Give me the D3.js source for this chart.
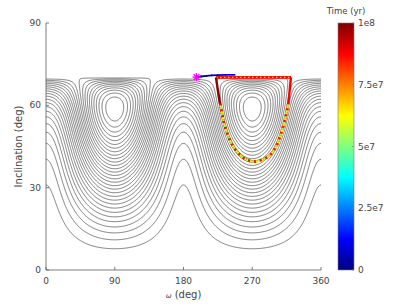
<!DOCTYPE html>
<html><head><meta charset="utf-8">
<script src="https://cdn.jsdelivr.net/npm/d3@7"></script>
<style>
body{margin:0;background:#fff;}
text{font-family:"DejaVu Sans",sans-serif;}
</style>
</head><body>
<svg id="chart" width="407" height="304"></svg>
<script>
// ---------- data ----------
const xTicks = [0, 90, 180, 270, 360];
const yTicks = [0, 30, 60, 90];
const cbTicks = [0, 2.5e7, 5e7, 7.5e7, 1e8];
const cbTickLabels = ["0", "2.5e7", "5e7", "7.5e7", "1e8"];
const initialInc = 70; // deg (e ~ 0 at start) -> sets conserved Jz
const contourLevels = [-6.403, -5.897, -5.390, -4.884, -4.377, -3.871, -3.364, -2.858,
  -2.351, -1.844, -1.338, -0.832, -0.325, 0.181, 0.688, 1.194, 1.701, 2.207, 2.714,
  3.220, 3.727, 4.234, 4.740, 5.247, 5.753, 6.260, 6.766, 7.273, 7.779, 8.286, 8.792];
// early drift (blue part)
const startOmega = [197, 203, 210, 217, 225, 235, 247];
const startInc   = [70.3, 70.5, 70.7, 70.9, 71.0, 71.1, 71.1];
const startTime  = [0, 2e6, 4e6, 6e6, 9e6, 1.3e7, 1.7e7];
// librating loop around omega = 270
const loopOmega = [222.5, 224.3, 227.8, 232.1, 238.7, 245.2, 254.0, 262.7, 271.4,
  282.3, 293.2, 301.1, 306.3, 312.9, 317.2, 319.4, 320.7];
const loopInc = [70.2, 66.8, 60.7, 54.7, 48.6, 44.9, 41.9, 40.1, 39.5,
  40.1, 41.9, 44.9, 48.6, 54.7, 60.7, 66.8, 70.2];
const loopSideTimes = [9.8e7, 8.8e7];     // left side, right side
const loopTopTimes = [8.7e7, 6.6e7];      // top edge solid, top edge dots
const lapTimes = [8.6e7, 6.3e7, 5.3e7];   // overlapping laps (dotted look)
const markerOmega = [197];
const markerInc = [70.3];

// ---------- layout ----------
const svg = d3.select("#chart");
const L = 46, R = 321, T = 23, B = 270;
const x = d3.scaleLinear().domain([0, 360]).range([L, R]);
const y = d3.scaleLinear().domain([0, 90]).range([B, T]);
const cbX = 338, cbW = 16;
const cbScale = d3.scaleLinear().domain([0, 1e8]).range([B, T]);
const tNorm = d3.scaleLinear().domain([0, 1e8]).range([0, 1]).clamp(true);
function jet(t) {
  const c = v => Math.max(0, Math.min(1, v));
  const r = c(1.5 - Math.abs(4 * t - 3)), g = c(1.5 - Math.abs(4 * t - 2)), b = c(1.5 - Math.abs(4 * t - 1));
  return d3.rgb(r * 255, g * 255, b * 255).formatHex();
}
const col = tm => jet(tNorm(tm));

// ---------- contour field (quadrupole Kozai integral) ----------
const nx = 361, ny = 281, dOm = 1, dInc = 0.25;
const Jz2 = Math.pow(Math.cos(initialInc * Math.PI / 180), 2);
const values = new Float64Array(nx * ny);
for (let r = 0; r < ny; r++) {
  const inc = r * dInc * Math.PI / 180;
  const c2 = Math.cos(inc) ** 2, s2 = 1 - c2;
  const e2 = Math.max(0, 1 - Jz2 / c2);
  for (let j = 0; j < nx; j++) {
    const om = j * dOm * Math.PI / 180;
    values[r * nx + j] = (2 + 3 * e2) * (3 * c2 - 1) + 15 * e2 * s2 * Math.cos(2 * om);
  }
}
const cons = d3.contours().size([nx, ny]).thresholds(contourLevels)(values);
const isB = p => p[0] === 0 || p[0] === nx || p[1] === 0 || p[1] === ny;
const lines = [];
cons.forEach(mp => mp.coordinates.forEach(poly => poly.forEach(ring => {
  let cur = [];
  for (let k = 0; k < ring.length - 1; k++) {
    const a = ring[k], b = ring[k + 1];
    if (isB(a) && isB(b)) {
      if (cur.length > 1) lines.push(cur);
      cur = [];
    } else {
      if (!cur.length) cur.push(a);
      cur.push(b);
    }
  }
  if (cur.length > 1) lines.push(cur);
})));
const gx = g => (g - 0.5) * dOm, gy = g => Math.min(70, (g - 0.5) * dInc);

svg.append("defs").append("clipPath").attr("id", "clip")
  .append("rect").attr("x", L).attr("y", T).attr("width", R - L).attr("height", B - T);

const cline = d3.line().x(p => x(gx(p[0]))).y(p => y(gy(p[1])));
svg.append("g").attr("clip-path", "url(#clip)")
  .selectAll("path").data(lines).join("path")
  .attr("d", cline).attr("fill", "none").attr("stroke", "#3a3a3a").attr("stroke-width", 0.65);

// ---------- axes ----------
const ax = svg.append("g").attr("stroke", "#5a5a5a").attr("stroke-width", 0.8);
ax.append("line").attr("x1", L).attr("x2", R).attr("y1", B).attr("y2", B);
ax.append("line").attr("x1", L).attr("x2", L).attr("y1", B).attr("y2", T);
xTicks.forEach(v => ax.append("line").attr("x1", x(v)).attr("x2", x(v)).attr("y1", B).attr("y2", B - 3));
yTicks.forEach(v => ax.append("line").attr("x1", L).attr("x2", L + 3).attr("y1", y(v)).attr("y2", y(v)));
const tc = "#444";
svg.selectAll(".xt").data(xTicks).join("text").attr("x", d => x(d)).attr("y", B + 14)
  .attr("text-anchor", "middle").attr("font-size", 9).attr("fill", tc).text(d => d);
svg.selectAll(".yt").data(yTicks).join("text").attr("x", L - 5).attr("y", d => y(d) + 3)
  .attr("text-anchor", "end").attr("font-size", 9).attr("fill", tc).text(d => d);
svg.append("text").attr("transform", `translate(22,${(T + B) / 2}) rotate(-90)`)
  .attr("text-anchor", "middle").attr("font-size", 10).attr("fill", tc).text("Inclination (deg)");
const xl = svg.append("text").attr("x", (L + R) / 2).attr("y", 298).attr("text-anchor", "middle")
  .attr("font-size", 10).attr("fill", tc);
xl.append("tspan").attr("font-size", 7).attr("font-style", "italic").text("ω");
xl.append("tspan").text(" (deg)");

// ---------- trajectory ----------
const traj = svg.append("g").attr("clip-path", "url(#clip)");
const lineXY = d3.line().x(d => x(d[0])).y(d => y(d[1])).curve(d3.curveCatmullRom);
const loopPts = loopOmega.map((o, i) => [o, loopInc[i]]);
const mid = Math.floor(loopPts.length / 2);
const topEdge = [[x(loopOmega[0]), y(loopInc[0])], [x(loopOmega[loopOmega.length - 1]), y(loopInc[loopInc.length - 1])]];
// top edge
traj.append("path").attr("d", d3.line()(topEdge))
  .attr("stroke", col(loopTopTimes[0])).attr("stroke-width", 2.6).attr("fill", "none");
traj.append("path").attr("d", d3.line()(topEdge))
  .attr("stroke", col(loopTopTimes[1])).attr("stroke-width", 1.2).attr("stroke-dasharray", "1.5,2.5").attr("fill", "none");
// sides
traj.append("path").attr("d", lineXY(loopPts.slice(0, mid + 1)))
  .attr("stroke", col(loopSideTimes[0])).attr("stroke-width", 2.4).attr("fill", "none");
traj.append("path").attr("d", lineXY(loopPts.slice(mid)))
  .attr("stroke", col(loopSideTimes[1])).attr("stroke-width", 2.4).attr("fill", "none");
// overlapping laps on lower part
const lower = loopPts.slice(2, loopPts.length - 2);
lapTimes.forEach((tm, k) => {
  traj.append("path").attr("d", lineXY(lower))
    .attr("stroke", col(tm)).attr("stroke-width", 2.4).attr("fill", "none")
    .attr("stroke-dasharray", "2,4").attr("stroke-dashoffset", -2 * k);
});
// early blue drift
for (let i = 0; i < startOmega.length - 1; i++) {
  traj.append("line").attr("x1", x(startOmega[i])).attr("y1", y(startInc[i]))
    .attr("x2", x(startOmega[i + 1])).attr("y2", y(startInc[i + 1]))
    .attr("stroke", col(startTime[i])).attr("stroke-width", 1.8).attr("stroke-linecap", "round");
}
// start marker
markerOmega.forEach((o, i) => {
  const cx = x(o), cy = y(markerInc[i]), r = 4;
  const g = svg.append("g").attr("stroke", "#ff00ff").attr("stroke-width", 1.4);
  [0, 45, 90, 135].forEach(a => {
    const rad = a * Math.PI / 180;
    g.append("line").attr("x1", cx - r * Math.cos(rad)).attr("y1", cy - r * Math.sin(rad))
      .attr("x2", cx + r * Math.cos(rad)).attr("y2", cy + r * Math.sin(rad));
  });
});

// ---------- colorbar ----------
const grad = svg.select("defs").append("linearGradient").attr("id", "jet")
  .attr("x1", 0).attr("y1", 1).attr("x2", 0).attr("y2", 0);
d3.range(0, 65).forEach(k => {
  grad.append("stop").attr("offset", k / 64).attr("stop-color", jet(k / 64));
});
svg.append("rect").attr("x", cbX).attr("y", T).attr("width", cbW).attr("height", B - T)
  .attr("fill", "url(#jet)").attr("stroke", "#7a7a7a").attr("stroke-width", 0.6);
cbTicks.forEach((v, i) => {
  svg.append("line").attr("x1", cbX + cbW - 2).attr("x2", cbX + cbW).attr("y1", cbScale(v)).attr("y2", cbScale(v))
    .attr("stroke", "#7a7a7a").attr("stroke-width", 0.6);
  svg.append("text").attr("x", cbX + cbW + 4).attr("y", cbScale(v) + 3).attr("font-size", 9)
    .attr("fill", tc).text(cbTickLabels[i]);
});
svg.append("text").attr("x", cbX + cbW / 2).attr("y", 14).attr("text-anchor", "middle")
  .attr("font-size", 8.5).attr("fill", tc).text("Time (yr)");
</script>
</body></html>
